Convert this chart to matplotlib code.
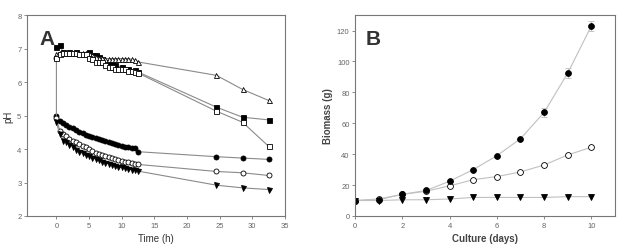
import numpy as np
import matplotlib.pyplot as plt

plt.rcParams['font.family'] = ['Liberation Sans', 'DejaVu Sans']

# ---- panel A: pH over time ----
t_sq_f = [0, 0.5, 1, 2, 3, 4, 5, 5.5, 6, 6.5, 7, 8, 8.5, 9, 10, 11, 12, 12.5, 24.5, 28.5, 32.5]
ph_sq_f = [7.05, 7.1, 6.9, 6.9, 6.9, 6.85, 6.9, 6.8, 6.8, 6.75, 6.7, 6.6, 6.55, 6.5, 6.45,
           6.4, 6.35, 6.3, 5.25, 4.95, 4.87]

t_dense = [0.5, 1, 1.5, 2, 2.5, 3, 3.5, 4, 4.5, 5, 5.5, 6, 6.5, 7, 7.5, 8, 8.5, 9, 9.5,
           10, 10.5, 11, 11.5, 12, 12.5]
t_tail = [24.5, 28.5, 32.5]

ph_sq_o = [6.72, 6.85, 6.88, 6.87, 6.87, 6.87, 6.87, 6.83, 6.85, 6.85, 6.72, 6.7, 6.6, 6.6,
           6.6, 6.5, 6.45, 6.45, 6.4, 6.4, 6.38, 6.38, 6.33, 6.32, 6.3, 6.27, 5.13, 4.8, 4.08]
ph_tri_up = [6.85, 6.88, 6.88, 6.88, 6.88, 6.88, 6.88, 6.88, 6.88, 6.88, 6.88, 6.8, 6.75,
             6.72, 6.72, 6.7, 6.7, 6.7, 6.7, 6.7, 6.7, 6.7, 6.7, 6.68, 6.65, 6.6, 6.2, 5.78, 5.45]
ph_circ_f = [5.0, 4.85, 4.78, 4.72, 4.66, 4.62, 4.57, 4.52, 4.47, 4.43, 4.40, 4.36, 4.33,
             4.30, 4.27, 4.24, 4.20, 4.17, 4.14, 4.11, 4.08, 4.06, 4.05, 4.04, 4.03, 3.92,
             3.77, 3.73, 3.69]
ph_circ_o = [6.72, 4.92, 4.55, 4.45, 4.38, 4.30, 4.25, 4.20, 4.15, 4.10, 4.05, 4.00, 3.95,
             3.88, 3.85, 3.82, 3.78, 3.75, 3.72, 3.70, 3.67, 3.65, 3.62, 3.60, 3.58, 3.56,
             3.54, 3.33, 3.29, 3.21]
ph_tri_dn = [4.8, 4.45, 4.25, 4.2, 4.12, 4.05, 3.98, 3.92, 3.87, 3.82, 3.78, 3.74, 3.70,
             3.66, 3.62, 3.59, 3.56, 3.53, 3.50, 3.47, 3.45, 3.42, 3.40, 3.38, 3.36, 3.34,
             2.92, 2.84, 2.79]

# ---- panel B: biomass over culture days ----
days = [0, 1, 2, 3, 4, 5, 6, 7, 8, 9, 10]
bio_f = [10, 10.5, 14, 16.5, 22.5, 30, 39, 50, 67, 92.5, 123]
bio_f_err = [0, 0, 0, 0, 0, 0, 0, 0, 3, 3, 3]
bio_o = [10, 11, 14, 16, 19.5, 23.5, 25.5, 28.5, 33, 39.5, 44.5]
bio_t = [10, 10, 10.5, 10.5, 11, 12, 12, 12, 12, 12.5, 12.5]

fig = plt.figure(figsize=(6.24, 2.51), dpi=100)
axA = fig.add_axes([0.0433, 0.1355, 0.4134, 0.8005])
axB = fig.add_axes([0.569, 0.1355, 0.4166, 0.8005])

lc = '#8a8a8a'
ms = 3.6
kw = dict(color=lc, lw=0.8, markeredgecolor='black', markeredgewidth=0.6, markersize=ms)

t_full = [0] + t_dense + t_tail
axA.plot(t_sq_f, ph_sq_f, marker='s', markerfacecolor='black', zorder=1, **kw)
axA.plot(t_full, ph_tri_up, marker='^', markerfacecolor='white', zorder=2, **kw)
axA.plot(t_full, ph_sq_o, marker='s', markerfacecolor='white', zorder=3, **kw)
axA.plot(t_full, ph_circ_f, marker='o', markerfacecolor='black', **kw)
axA.plot([0] + t_full, ph_circ_o, marker='o', markerfacecolor='white', **kw)
axA.plot(t_full, ph_tri_dn, marker='v', markerfacecolor='black', **kw)

axA.set_xlim(-4.5, 35)
axA.set_ylim(2, 8)
axA.set_xticks([0, 5, 10, 15, 20, 25, 30, 35])
axA.set_yticks([2, 3, 4, 5, 6, 7, 8])
axA.set_xlabel('Time (h)', fontsize=7, color='#333333', labelpad=3)
axA.set_ylabel('pH', fontsize=7, color='#333333', labelpad=3)
axA.text(0.05, 0.93, 'A', transform=axA.transAxes, fontsize=15, fontweight='bold',
         va='top', ha='left', color='#333333')

lcB = '#c0c0c0'
kwB = dict(color=lcB, lw=0.8, markeredgecolor='black', markeredgewidth=0.6, markersize=4.2)
axB.errorbar(days, bio_f, yerr=bio_f_err, marker='o', markerfacecolor='black',
             ecolor=lcB, elinewidth=0.8, capsize=2, **kwB)
axB.plot(days, bio_o, marker='o', markerfacecolor='white', **kwB)
axB.plot(days, bio_t, marker='v', markerfacecolor='black', **kwB)

axB.set_xlim(0, 11)
axB.set_ylim(0, 130)
axB.set_xticks([0, 2, 4, 6, 8, 10])
axB.set_yticks([0, 20, 40, 60, 80, 100, 120])
axB.set_xlabel('Culture (days)', fontsize=7, fontweight='bold', color='#444444', labelpad=3)
axB.set_ylabel('Biomass (g)', fontsize=7, fontweight='bold', color='#444444', labelpad=3)
axB.text(0.04, 0.93, 'B', transform=axB.transAxes, fontsize=15, fontweight='bold',
         va='top', ha='left', color='#333333')

for ax in (axA, axB):
    for sp in ax.spines.values():
        sp.set_color('#777777')
        sp.set_linewidth(0.8)
    ax.tick_params(direction='out', length=2, width=0.6, color='#777777',
                   labelsize=5.5, labelcolor='#666666', pad=2)

fig.savefig('out.png', dpi=100)
